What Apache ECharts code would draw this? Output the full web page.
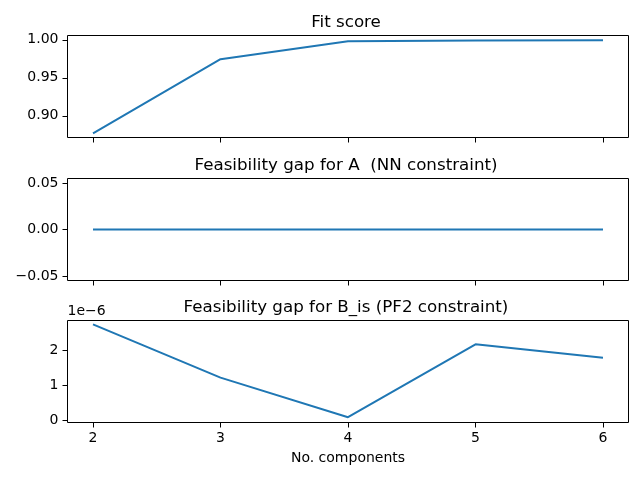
<!DOCTYPE html>
<html lang="en">
<head>
    <meta charset="UTF-8">
    <script src="https://cdn.jsdelivr.net/npm/echarts@6/dist/echarts.min.js"></script>
    <title>Fit score</title>
</head>
<body>
<style>
    html, body, #main {
        width: 640px;
        height: 480px;
        margin: 0;
        background: #fff;
    }
</style>
<div id='main'></div>
<script>
    // data
    var components = [2, 3, 4, 5, 6];
    var fitScore = [0.877, 0.9745, 0.998, 0.999, 0.9993];
    var gapA = [0, 0, 0, 0, 0];
    var gapB = [2.75e-6, 1.23e-6, 0.10e-6, 2.18e-6, 1.80e-6];

    var xTicks = [2, 3, 4, 5, 6];
    var fitTicks = [0.90, 0.95, 1.00];
    var gapATicks = [-0.05, 0.00, 0.05];
    var gapBTicks = [0, 1e-6, 2e-6];

    var titles = ['Fit score', 'Feasibility gap for A  (NN constraint)', 'Feasibility gap for B_is (PF2 constraint)'];

    var font = 'DejaVu Sans';
    var blue = '#1f77b4';
    var gridTops = [35.5, 178.5, 320.5];
    var gridH = 102;

    var minus = function (s) {
        return String(s).replace('-', '\u2212');
    };

    var pairs = function (ys) {
        var out = [];
        for (var i = 0; i < components.length; i++) {
            out.push([components[i], ys[i]]);
        }
        return out;
    };

    var grids = [], xAxes = [], yAxes = [], series = [], titleList = [];
    for (var g = 0; g < 3; g++) {
        grids.push({
            left: 67.5, width: 561, top: gridTops[g], height: gridH,
            show: true, borderColor: '#000', borderWidth: 1, backgroundColor: 'transparent'
        });
        titleList.push({
            text: titles[g],
            left: 341, top: gridTops[g] - 26,
            textAlign: 'center',
            textStyle: {fontFamily: font, fontSize: 16.7, fontWeight: 'normal', color: '#000'}
        });
        xAxes.push({
            type: 'value', gridIndex: g, min: 1.8, max: 6.2,
            splitLine: {show: false},
            axisLine: {show: false, onZero: false},
            axisTick: {show: true, inside: false, length: 5, customValues: xTicks,
                lineStyle: {color: '#000', width: 1}},
            axisLabel: {show: g === 2, customValues: xTicks, margin: 9,
                fontFamily: font, fontSize: 14, color: '#000'},
            name: g === 2 ? 'No. components' : '',
            nameLocation: 'middle', nameGap: 29,
            nameTextStyle: {fontFamily: font, fontSize: 14, color: '#000'}
        });
    }

    var yCommon = function (g, min, max, ticks, fmt) {
        return {
            type: 'value', gridIndex: g, min: min, max: max,
            splitLine: {show: false},
            axisLine: {show: false, onZero: false},
            axisTick: {show: true, inside: false, length: 5, customValues: ticks,
                lineStyle: {color: '#000', width: 1}},
            axisLabel: {customValues: ticks, margin: 9, formatter: fmt,
                fontFamily: font, fontSize: 14, color: '#000'}
        };
    };

    yAxes.push(yCommon(0, 0.8715, 1.0057, fitTicks, function (v) {
        return v.toFixed(2);
    }));
    yAxes.push(yCommon(1, -0.055, 0.055, gapATicks, function (v) {
        return minus(v.toFixed(2));
    }));
    var yB = yCommon(2, -0.05e-6, 2.86e-6, gapBTicks, function (v) {
        return String(Math.round(v * 1e6));
    });
    yB.name = '1e\u22126';
    yB.nameLocation = 'end';
    yB.nameGap = 2;
    yB.nameTextStyle = {fontFamily: font, fontSize: 14, color: '#000', align: 'left', verticalAlign: 'bottom', padding: [0, 0, 0, 0]};
    yAxes.push(yB);

    var allY = [fitScore, gapA, gapB];
    for (var s = 0; s < 3; s++) {
        series.push({
            type: 'line', xAxisIndex: s, yAxisIndex: s,
            data: pairs(allY[s]),
            showSymbol: false, symbol: 'none',
            lineStyle: {color: blue, width: 2},
            animation: false
        });
    }

    var chart = echarts.init(document.getElementById('main'));
    var option = {
        backgroundColor: '#fff',
        title: titleList,
        grid: grids,
        xAxis: xAxes,
        yAxis: yAxes,
        series: series
    };
    chart.setOption(option);
</script>
</body>
</html>
